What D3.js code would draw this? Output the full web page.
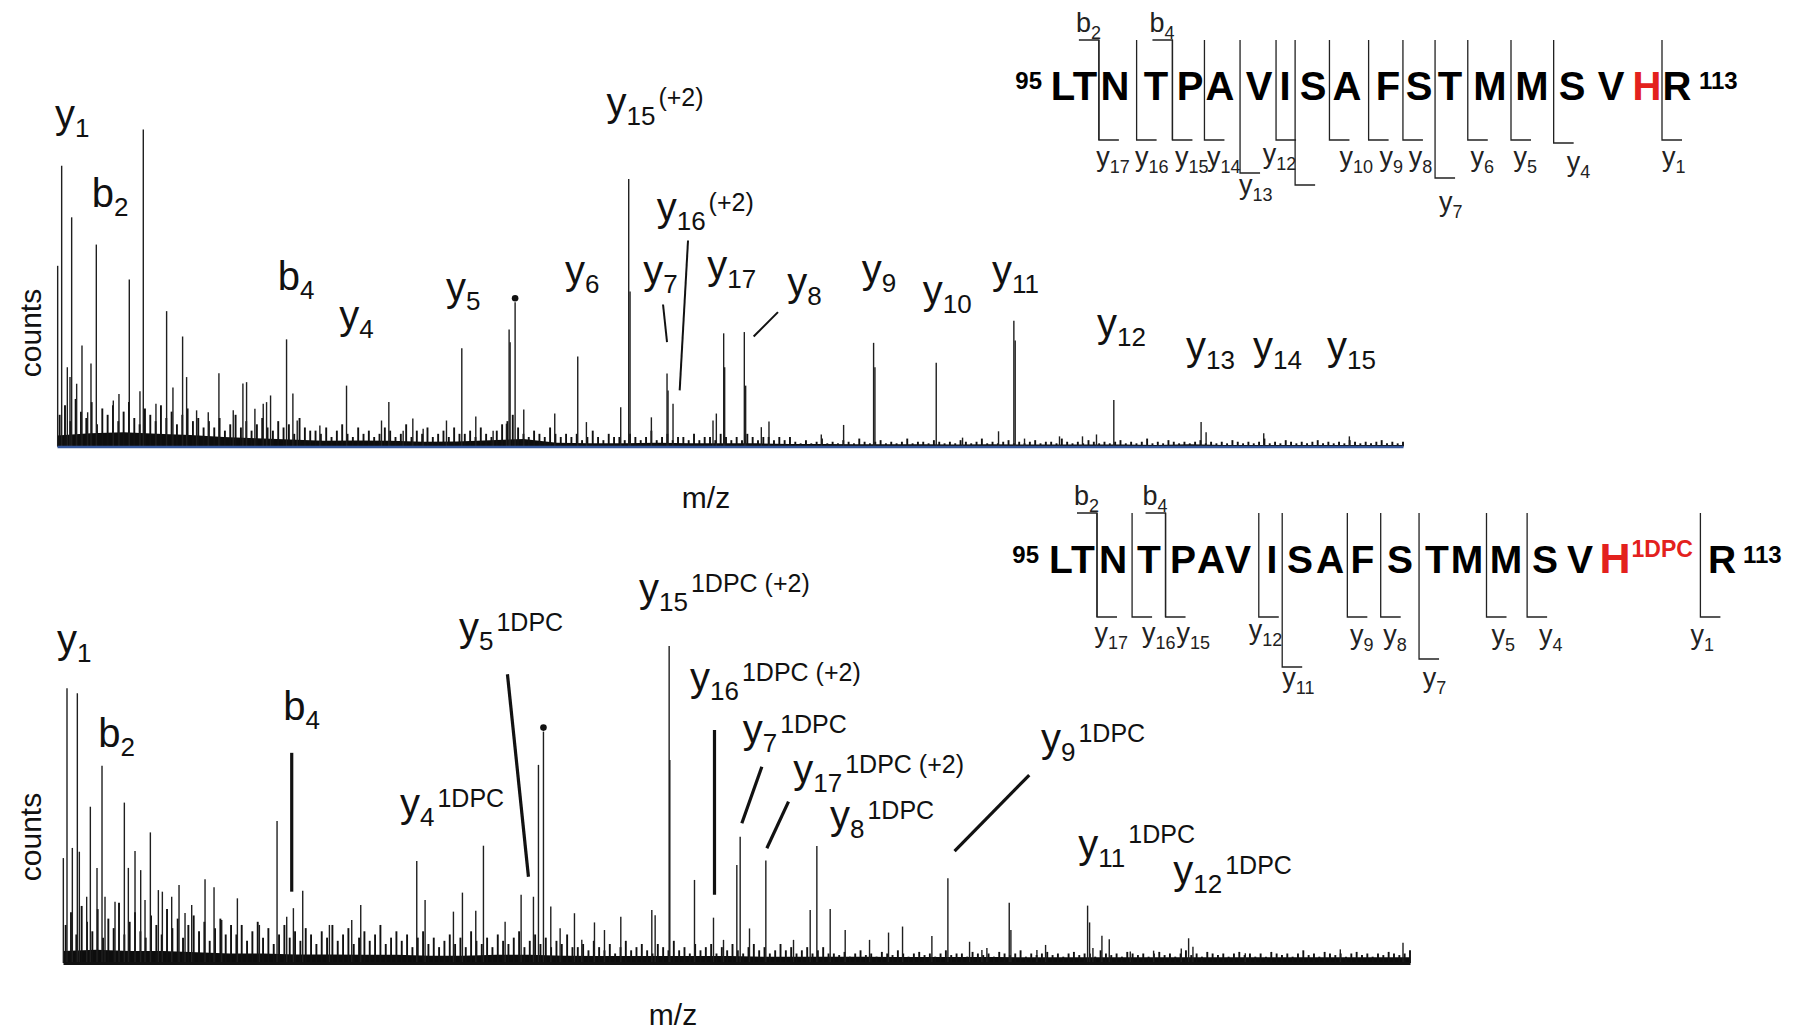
<!DOCTYPE html>
<html lang="en">
<head>
<meta charset="UTF-8">
<title>MS/MS spectra LTNTPAVISAFSTMMSVHR</title>
<script src="https://d3js.org/d3.v7.min.js"></script>
<style>
    body { margin: 0; background: #fff; }
    svg { display: block; font-family: "Liberation Sans", Arial, sans-serif; }
    .floor { fill: #0d0d0d; }
    .grass { stroke: #111; stroke-width: 1.9; }
    .peak { stroke: #1f1f1f; stroke-width: 1.4; }
    .lead-top { stroke: #111; stroke-width: 2; }
    .lead-bot { stroke: #111; stroke-width: 3.2; }
    .lbl { fill: #111; }
    .axis-title { fill: #111; font-size: 30px; }
    .seq { font-weight: bold; }
    .frag { stroke: #222; stroke-width: 1.3; fill: none; }
    .fraglbl { fill: #222; }
</style>
</head>
<body>
<svg id="chart" width="1801" height="1032"></svg>
<script>
// ---------- data ----------
const mzDomain = [0, 2020];
const grassStep = 8;   // m/z per noise bin
const floorStep = 50;  // m/z per noise-floor point

// [m/z, relative intensity %]
const topPeaks = [
    [1, 57], [7, 88.6], [15.5, 25], [19.5, 21.9], [22, 72.3], [29.5, 19.8], [37.5, 31.9], [46, 10.8],
    [51, 26.2], [59, 63.7], [84.5, 14.5], [93, 16.6], [108.5, 52.7], [124.5, 17.4], [129.5, 100],
    [148.5, 13.5], [164.5, 42.7], [174, 18.6], [188.5, 34.7], [194.5, 21.9], [209.5, 11.4], [227, 10.8],
    [243, 23.1], [264.5, 11.4], [279, 19.9], [284.5, 20.3], [297, 11.9], [309.5, 13.5], [314.5, 14],
    [320.5, 16.1], [344.5, 33.8], [354, 16.7], [360.5, 8.2], [394.5, 6.6], [434.5, 19.2], [487, 8.2],
    [498, 14], [519.5, 5], [534, 8.8], [549.5, 5.6], [584.5, 8.2], [607.5, 31], [628.5, 9.5],
    [654.5, 5], [674.5, 7.2], [678.5, 36.9], [680, 32.9], [687.5, 45.5], [700.5, 11.7], [747, 10.4],
    [781.5, 28.4], [794.5, 7.7], [846, 12.4], [858, 84.4], [860, 48.9], [892, 9.2], [915.5, 23],
    [917, 17.7], [924.5, 13.5], [984.5, 8.2], [989.5, 10.4], [1000.5, 35.7], [1002, 25], [1031.5, 36.1],
    [1033.5, 19.2], [1057, 6.1], [1068.5, 7.9], [1147, 3.8], [1180.5, 6.8], [1225.5, 32.7], [1227.5, 25],
    [1319.5, 26.4], [1359, 2.8], [1413, 4.8], [1436, 39.7], [1438, 33.4], [1452, 2.5], [1504.5, 3.2],
    [1539, 3.2], [1560, 3.8], [1586, 14.7], [1717, 7.7], [1724.5, 4.5], [1811, 4.2], [1939.5, 3.2]
];
const botPeaks = [
    [0.5, 33.1], [6, 86.7], [14, 36.3], [21.5, 85.1], [24.5, 35.1], [35.5, 20.9], [41, 49.3], [51, 30],
    [58.5, 62.2], [63, 20.9], [78, 19.3], [84, 14.6], [92, 50.6], [98, 30], [108, 35.3], [116.5, 29.3],
    [123, 19.9], [131, 41.2], [143, 23], [149, 22.5], [163, 20.9], [174, 24.6], [183, 15.8], [193, 18.3],
    [213, 26.4], [226.5, 23.9], [238, 13.6], [261.5, 20.4], [294.5, 12], [321, 44.8], [335.5, 14.6],
    [345.5, 17.3], [359.5, 22.8], [399.5, 12], [433, 13.6], [446.5, 18.3], [530.5, 32.2], [543, 19.9],
    [585.5, 16.2], [599, 22.2], [619, 16.5], [630.5, 37], [663, 13], [687, 21.5], [705.5, 20.9],
    [713, 62.5], [720.5, 73], [731.5, 17.8], [745.5, 11], [767, 15.7], [778, 7.3], [797, 12.8],
    [812, 10.4], [836.5, 14.6], [883, 16.7], [888, 15.1], [909, 100], [910, 64], [947, 26.2],
    [975.5, 14.3], [990.5, 7.3], [1010.5, 30.9], [1015.5, 39.8], [1029.5, 10.9], [1054, 32.3],
    [1095.5, 7.3], [1120.5, 16.7], [1130.5, 36.9], [1150.5, 17], [1173, 10.4], [1209.5, 7.3],
    [1238, 9.6], [1259, 11.5], [1303, 8.5], [1327, 26.7], [1359.5, 6.7], [1378, 4.1], [1385.5, 4.7],
    [1419, 19], [1421.5, 10.4], [1460.5, 4.1], [1473.5, 5.7], [1536.5, 18.1], [1539.5, 12.8],
    [1544.5, 4.7], [1558, 8.6], [1569, 7.5], [1600.5, 3.6], [1635.5, 3.9], [1677, 4.6], [1688, 7.8],
    [1694.5, 5.1], [1773, 3.1], [1915.5, 4.3], [2009.5, 6.4]
];
// peaks carrying the small dot marker (m/z)
const topMarked = [687.5];
const botMarked = [720.5];

// low-level noise, one value per 8 m/z bin (%)
const topGrass = [
    10, 13, 8, 15, 11, 9, 14, 7, 12, 10, 13, 8, 11, 14, 9, 7, 12, 10, 8, 13, 9, 11, 7, 10, 12, 8, 9, 6,
    8, 6, 9, 5, 7, 10, 6, 8, 5, 7, 9, 6, 5, 8, 6, 7, 4, 9, 6, 5,
    5, 4, 6, 3, 5, 7, 4, 3, 6, 4, 5, 3, 4, 6, 5, 3, 4, 7, 3, 5, 4, 6, 3, 4, 5, 3, 6, 4,
    4, 5, 3, 6, 4, 3, 5, 7, 8, 10, 6, 4, 3, 5, 4, 3, 6, 4, 3, 4,
    3, 4, 2, 3, 5, 3, 2, 4, 3, 3, 2, 4, 3, 2, 3, 5, 2, 3, 4, 2, 3, 3, 2, 4, 2, 3, 3, 2, 4, 3, 2, 3, 2, 4, 3, 2, 3, 3, 2, 3, 2, 3,
    1.5, 1, 2, 1, 1.5, 2.5, 1, 1.5, 1, 2, 1.5, 1, 2.5, 1.5, 1, 1.5, 2, 1, 1.5, 1,
    1.5, 2.5, 1, 1.5, 1.5, 1, 2, 1.5, 1, 1.5, 1, 2, 1.5, 1, 1.5, 2.5, 1, 1.5, 1, 1.5,
    2, 1, 1.5, 1, 1.5, 2, 1, 1.5, 1.5, 1, 2.5, 1.5, 1, 1.5, 1, 2, 1.5, 1, 1.5, 1,
    1.5, 2, 1, 1.5, 1, 1.5, 2.5, 1, 1.5, 1, 2, 1.5, 1, 1.5, 1, 1.5, 2, 1, 1.5, 1,
    1.5, 1, 2, 1.5, 1, 1.5, 1, 1.5, 2.5, 1, 1.5, 1, 2, 1.5, 1, 1.5, 1, 1.5, 2, 1,
    1.5, 1, 1.5, 1, 2, 1.5, 1, 1.5, 1, 1.5, 2, 1, 1.5, 1, 1.5
];
const botGrass = [
    12, 16, 9, 18, 13, 10, 17, 8, 14, 11, 19, 9, 13, 16, 10, 8, 15, 12, 9, 17, 11, 14, 8, 12, 15, 10, 13, 7, 11, 14, 9, 12,
    9, 12, 7, 10, 13, 8, 11, 6, 9, 12, 8, 10, 7, 11, 9, 6, 10, 8, 12, 7, 9, 11, 6, 8, 10, 7, 9, 12, 6, 8, 10,
    7, 9, 5, 8, 10, 6, 8, 5, 7, 9, 6, 8, 5, 10, 7, 6, 8, 5, 9, 7, 6, 8, 10, 5, 7, 9, 6, 8, 5, 7, 6, 9, 5,
    5, 6, 4, 7, 5, 4, 6, 3, 5, 7, 4, 5, 6, 4, 3, 6, 5, 4, 7, 4, 5, 3, 6, 4, 5, 6, 3, 5, 4, 6, 4, 3, 5, 6, 4, 5, 3, 4, 6, 4, 5, 3, 4, 5, 3, 4, 5, 3,
    3, 2.5, 3.5, 2, 3, 4, 2.5, 3, 2, 3.5, 3, 2.5, 4, 3, 2, 3, 3.5, 2.5, 3, 2,
    3, 4, 2.5, 3, 3, 2, 3.5, 3, 2.5, 3, 2, 3.5, 3, 2.5, 3, 4, 2, 3, 2.5, 3,
    3.5, 2.5, 3, 2, 3, 3.5, 2.5, 3, 3, 2, 4, 3, 2.5, 3, 2, 3.5, 3, 2.5, 3, 2,
    3, 3.5, 2.5, 3, 2, 3, 4, 2.5, 3, 2, 3.5, 3, 2.5, 3, 2, 3, 3.5, 2.5, 3, 2,
    3, 2, 3.5, 3, 2.5, 3, 2, 3, 4, 2.5, 3, 2, 3.5, 3, 2.5, 3, 2, 3, 3.5, 2.5,
    3, 2, 3, 2.5, 3.5, 3, 2.5, 3, 4
];
// dense noise floor, one value per 50 m/z (%)
const topFloor = [3.5, 4.2, 4.5, 4, 3.6, 3, 2.6, 2.2, 1.8, 1.9, 1.8, 1.5, 1.6, 2, 2.4, 1.2, 1, 1, 1.2, 1, 1,
    1, 0.8, 0.8, 0.7, 0.7, 0.7, 0.6, 0.7, 0.6, 0.6, 0.6, 0.6, 0.5, 0.7, 0.5, 0.5, 0.5, 0.5, 0.5, 0.5];
const botFloor = [3.8, 4.2, 3.8, 3.8, 3.4, 3, 3, 2.7, 2.7, 2.6, 2.6, 2.3, 2.3, 2.6, 2.6, 2.3, 2.2, 2.2, 2.2, 2.2, 2.2,
    2, 2, 2, 2, 1.9, 1.9, 1.9, 1.9, 1.8, 1.8, 1.8, 1.8, 1.8, 1.8, 1.8, 1.8, 1.8, 1.8, 1.8, 1.8];

// peak annotations: main letter, subscript, superscript
const topLabels = [
    ["y", "1"], ["b", "2"], ["b", "4"], ["y", "4"], ["y", "5"], ["y", "15", "(+2)"], ["y", "6"], ["y", "7"],
    ["y", "16", "(+2)"], ["y", "17"], ["y", "8"], ["y", "9"], ["y", "10"], ["y", "11"], ["y", "12"],
    ["y", "13"], ["y", "14"], ["y", "15"]
];
const botLabels = [
    ["y", "1"], ["b", "2"], ["b", "4"], ["y", "4", "1DPC"], ["y", "5", "1DPC"], ["y", "15", "1DPC (+2)"],
    ["y", "16", "1DPC (+2)"], ["y", "7", "1DPC"], ["y", "17", "1DPC (+2)"], ["y", "8", "1DPC"],
    ["y", "9", "1DPC"], ["y", "11", "1DPC"], ["y", "12", "1DPC"]
];
// leader lines [m/z1, int1, m/z2, int2]
const topLeaders = [[909.5, 44.8, 915.5, 32.9], [947, 65, 934.5, 17.7], [1082, 42.4, 1045.5, 34.7]];
const botLeaders = [[343, 66.3, 343, 22.5], [666.5, 91.1, 698, 27.2], [977, 73.5, 977, 21.5],
    [1048, 61.9, 1018, 44.1], [1088, 50.9, 1055.5, 36.2], [1449, 59.3, 1337, 35.3]];

// peptide sequence and observed fragments
const residues = ["L", "T", "N", "T", "P", "A", "V", "I", "S", "A", "F", "S", "T", "M", "M", "S", "V", "H", "R"];
const startNo = "95", endNo = "113";
const modIndex = 17;
const topBIons = [2, 4];
const topYIons = [17, 16, 15, 14, 13, 12, 11, 10, 9, 8, 7, 6, 5, 4, 1];
const botBIons = [2, 4];
const botYIons = [17, 16, 15, 12, 11, 9, 8, 7, 5, 4, 1];

// ---------- layout ----------
const panels = [
    { peaks: topPeaks, grass: topGrass, floor: topFloor, marked: topMarked, labels: topLabels,
      leaders: topLeaders, leadClass: "lead-top", x0: 57, x1: 1403, base: 446.5,
      axisColor: "#34569a", axisWidth: 2.6, countsY: 333, mzX: 706, mzY: 508,
      labelPos: [[55, 128], [91.7, 207], [277.7, 290], [339.3, 329], [446, 301], [606.5, 116], [565, 284],
          [643.3, 284], [656.7, 221], [707.3, 279], [787.3, 296], [861.7, 282.5], [922.7, 304], [992, 284],
          [1097, 337], [1186, 360], [1253, 360], [1327, 360]],
      supDy: {} },
    { peaks: botPeaks, grass: botGrass, floor: botFloor, marked: botMarked, labels: botLabels,
      leaders: botLeaders, leadClass: "lead-bot", x0: 63, x1: 1410, base: 963,
      axisColor: "#111", axisWidth: 3, countsY: 837, mzX: 673, mzY: 1025,
      labelPos: [[57, 653], [98.3, 746.7], [283.3, 720], [400, 817], [459, 641], [639, 602], [690, 691],
          [742.7, 742.5], [793.3, 782.5], [830, 829], [1041, 752], [1078.3, 858], [1173.3, 884]],
      supDy: { 11: -24 } }
];

const svg = d3.select("#chart");
const red = "#e3211d";

function addLabel(g, pos, lab, supDy) {
    const t = g.append("text").attr("class", "lbl")
        .attr("x", pos[0]).attr("y", pos[1]).attr("font-size", 40).text(lab[0]);
    t.append("tspan").attr("font-size", 26).attr("dy", 9).text(lab[1]);
    if (lab[2]) {
        t.append("tspan").attr("font-size", 25).attr("dx", 3).attr("dy", supDy || -19).text(lab[2]);
    }
}

function drawSpectrum(p) {
    const x = d3.scaleLinear().domain(mzDomain).range([p.x0, p.x1]).clamp(true);
    const y = d3.scaleLinear().domain([0, 100]).range([p.base, p.base - 317]);
    const g = svg.append("g");

    const floorPts = p.floor.concat([p.floor[p.floor.length - 1]]);
    g.append("path").datum(floorPts).attr("class", "floor")
        .attr("d", d3.area().x((d, i) => x(i * floorStep)).y0(y(0)).y1(d => y(d)));

    g.selectAll(".grass").data(p.grass).join("line").attr("class", "grass")
        .attr("x1", (d, i) => x(i * grassStep + grassStep / 2))
        .attr("x2", (d, i) => x(i * grassStep + grassStep / 2))
        .attr("y1", y(0)).attr("y2", d => y(d));

    g.selectAll(".peak").data(p.peaks).join("line").attr("class", "peak")
        .attr("x1", d => x(d[0])).attr("x2", d => x(d[0]))
        .attr("y1", y(0)).attr("y2", d => y(d[1]));

    // dot markers above flagged peaks
    p.marked.forEach(mz => {
        const pk = p.peaks.find(d => d[0] === mz);
        g.append("circle").attr("cx", x(pk[0])).attr("cy", y(pk[1]) - 4).attr("r", 3.3).attr("fill", "#111");
    });

    g.append("g").attr("transform", `translate(0,${p.base})`)
        .call(d3.axisBottom(x).tickValues([]).tickSizeOuter(0))
        .select(".domain").attr("stroke", p.axisColor).attr("stroke-width", p.axisWidth);

    g.selectAll(".lead").data(p.leaders).join("line").attr("class", p.leadClass)
        .attr("x1", d => x(d[0])).attr("y1", d => y(d[1]))
        .attr("x2", d => x(d[2])).attr("y2", d => y(d[3]));

    p.labels.forEach((lab, i) => addLabel(g, p.labelPos[i], lab, p.supDy[lab[1]]));

    g.append("text").attr("class", "axis-title")
        .attr("transform", `translate(41,${p.countsY}) rotate(-90)`)
        .attr("text-anchor", "middle").text("counts");
    g.append("text").attr("class", "axis-title")
        .attr("x", p.mzX).attr("y", p.mzY).attr("text-anchor", "middle").text("m/z");
}

panels.forEach(drawSpectrum);

// ---------- sequence maps ----------
const seqMaps = [
    { bIons: topBIons, yIons: topYIons, base: 99.5, size: 40, hSize: 40, hSup: null,
      xs: [1063, 1085, 1115, 1156, 1190, 1220, 1259, 1285, 1313, 1347, 1388, 1419, 1450, 1490, 1532, 1572, 1611, 1647, 1677],
      numL: [1042, 89], numR: [1699, 89], top: 40, bottom: 140,
      depth: { 13: 173, 11: 185, 7: 178, 4: 143 },
      yLab: { 17: [-2.6, 166], 16: [-1.5, 166], 15: [2.6, 166], 14: [2.6, 166], 13: [-1, 194], 12: [-13.4, 163],
              10: [10, 166], 9: [11, 166], 8: [5.7, 166], 7: [4, 210.7], 6: [2.6, 166], 5: [2.6, 166],
              4: [13, 170.7], 1: [0, 166] },
      bLab: 31.7 },
    { bIons: botBIons, yIons: botYIons, base: 572.5, size: 39, hSize: 43, hSup: "1DPC",
      xs: [1061, 1083, 1113, 1149, 1183, 1211, 1238, 1272, 1300, 1330, 1362.5, 1400, 1437, 1467, 1506, 1545, 1580, 1615, 1722],
      numL: [1039, 563], numR: [1743, 563], top: 513, bottom: 617,
      depth: { 11: 667, 7: 659 },
      yLab: { 17: [-2.6, 642], 16: [10, 642], 15: [11, 642], 12: [-10, 639], 11: [0, 687], 9: [2.6, 644],
              8: [2.6, 644], 7: [3.6, 687], 5: [5, 644], 4: [12, 644], 1: [-10, 644] },
      bLab: 505 }
];

function drawSeq(s) {
    const g = svg.append("g");
    const boxes = residues.map((r, i) => {
        const isMod = i === modIndex;
        const t = g.append("text").attr("class", "seq")
            .attr("x", s.xs[i]).attr("y", s.base).attr("text-anchor", "middle")
            .attr("font-size", isMod ? s.hSize : s.size)
            .style("fill", isMod ? red : "#000").text(r);
        const b = t.node().getBBox();
        let right = b.x + b.width;
        if (isMod && s.hSup) {
            const sp = g.append("text").attr("class", "seq").attr("x", right + 1).attr("y", s.base - 16)
                .attr("font-size", 23).style("fill", red).text(s.hSup);
            const sb = sp.node().getBBox();
            right = sb.x + sb.width;
        }
        return { left: b.x, right: right };
    });
    g.append("text").attr("class", "seq").attr("x", s.numL[0]).attr("y", s.numL[1])
        .attr("text-anchor", "end").attr("font-size", 24).style("fill", "#000").text(startNo);
    g.append("text").attr("class", "seq").attr("x", s.numR[0]).attr("y", s.numR[1])
        .attr("font-size", 24).style("fill", "#000").text(endNo);

    // cleavage between residue k-1 and k (0-based)
    const cut = k => (boxes[k - 1].right + boxes[k].left) / 2;
    const tick = 20;

    s.yIons.forEach(n => {
        const cx = cut(residues.length - n);
        const yb = s.depth[n] || s.bottom;
        g.append("path").attr("class", "frag")
            .attr("d", `M${cx},${s.top}V${yb}H${cx + tick}`);
        const lp = s.yLab[n];
        if (lp) {
            const t = g.append("text").attr("class", "fraglbl")
                .attr("x", cx + lp[0]).attr("y", lp[1]).attr("font-size", 27).text("y");
            t.append("tspan").attr("font-size", 18).attr("dy", 7).text(n);
        }
    });
    s.bIons.forEach(n => {
        const cx = cut(n);
        g.append("path").attr("class", "frag")
            .attr("d", `M${cx - tick},${s.top}H${cx}V${s.bottom}`);
        const t = g.append("text").attr("class", "fraglbl")
            .attr("x", cx - 23).attr("y", s.bLab).attr("font-size", 27).text("b");
        t.append("tspan").attr("font-size", 18).attr("dy", 7).text(n);
    });
}

seqMaps.forEach(drawSeq);
</script>
</body>
</html>
